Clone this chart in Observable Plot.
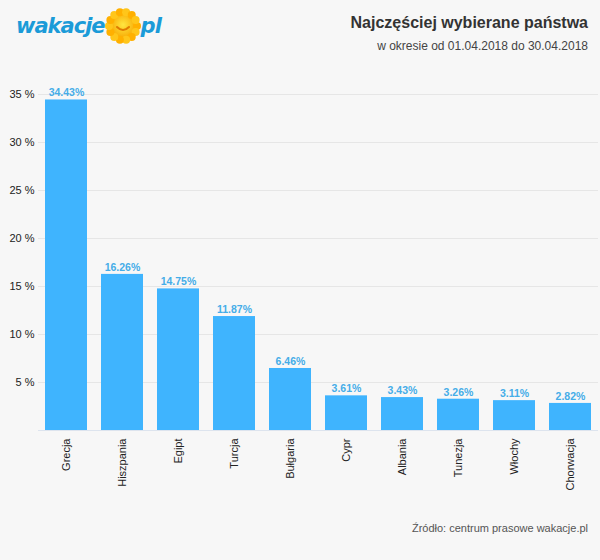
<!DOCTYPE html>
<html>
<head>
<meta charset="utf-8">
<script src="https://cdn.jsdelivr.net/npm/d3@7"></script>
<script src="https://cdn.jsdelivr.net/npm/@observablehq/plot@0.6"></script>
<style>
  html, body { margin: 0; padding: 0; background: #f7f7f7; }
  body { width: 600px; height: 560px; position: relative; overflow: hidden; font-family: "Liberation Sans", Arial, sans-serif; }
  #logo { position: absolute; left: 16px; top: 6px; height: 40px; display: flex; align-items: center; }
  .lt { font-family: "DejaVu Sans", "Liberation Sans", sans-serif; font-weight: bold; font-style: italic; color: #1b9bd8; font-size: 21px; letter-spacing: -1px; }
  #title { position: absolute; right: 12px; top: 14px; font-size: 16px; font-weight: bold; color: #333; }
  #subtitle { position: absolute; right: 12px; top: 39px; font-size: 12px; color: #444; }
  #chart { position: absolute; left: 0; top: 70px; }
  #caption { position: absolute; right: 12px; top: 522px; font-size: 11px; color: #555; }
</style>
</head>
<body>
<div id="logo">
  <span class="lt">wakacje</span>
  <svg width="40" height="40" viewBox="-20 -20 40 40" style="margin:0 -2px">
    <defs>
      <radialGradient id="sg" cx="0.5" cy="0.45" r="0.6">
        <stop offset="0" stop-color="#ffe640"/>
        <stop offset="1" stop-color="#f7a600"/>
      </radialGradient>
    </defs>
    <g fill="url(#sg)">
      <circle r="12"/>
    </g>
    <g id="petals"></g>
    <path d="M-6 1 Q0 7 6 1" stroke="#e07b00" stroke-width="2" fill="none" stroke-linecap="round"/>
  </svg>
  <span class="lt">pl</span>
</div>
<div id="title">Najczęściej wybierane państwa</div>
<div id="subtitle">w okresie od 01.04.2018 do 30.04.2018</div>
<div id="chart"></div>
<div id="caption">Źródło: centrum prasowe wakacje.pl</div>
<script>
const countries = ["Grecja", "Hiszpania", "Egipt", "Turcja", "Bułgaria", "Cypr", "Albania", "Tunezja", "Włochy", "Chorwacja"];
const shares = [34.43, 16.26, 14.75, 11.87, 6.46, 3.61, 3.43, 3.26, 3.11, 2.82];
const yTicks = [5, 10, 15, 20, 25, 30, 35];

// decorative sun petals
const petals = document.getElementById("petals");
for (let i = 0; i < 14; i++) {
  const a = (i / 14) * 2 * Math.PI;
  const c = document.createElementNS("http://www.w3.org/2000/svg", "circle");
  c.setAttribute("cx", (14 * Math.cos(a)).toFixed(2));
  c.setAttribute("cy", (14 * Math.sin(a)).toFixed(2));
  c.setAttribute("r", 4);
  c.setAttribute("fill", i % 2 ? "#ffc61a" : "#ffb000");
  petals.appendChild(c);
}

const data = countries.map((c, i) => ({country: c, share: shares[i]}));

const chart = Plot.plot({
  width: 600,
  height: 440,
  marginTop: 24,
  marginBottom: 80,
  marginLeft: 38,
  marginRight: 2,
  style: {background: "transparent", fontFamily: "'Liberation Sans', Arial, sans-serif", fontSize: "11px", color: "#333"},
  x: {domain: countries, paddingInner: 0.25, paddingOuter: 0.125, label: null},
  y: {domain: [0, 35], label: null},
  marks: [
    Plot.ruleY(yTicks, {stroke: "#e6e6e6", strokeWidth: 1}),
    Plot.ruleY([0], {stroke: "#dde4ee"}),
    Plot.ruleX([0], {frameAnchor: "left", stroke: "#dde4ee"}),
    Plot.barY(data, {x: "country", y: "share", fill: "#3fb4fe"}),
    Plot.text(data, {x: "country", y: "share", text: d => d.share.toFixed(2) + "%", dy: -7, fill: "#45ade8", fontWeight: "bold", fontSize: 10.5}),
    Plot.axisY(yTicks, {tickSize: 0, tickPadding: 4, tickFormat: d => d + " %", fill: "#222", fontSize: 11}),
    Plot.axisX({tickSize: 0, tickRotate: -90, tickPadding: 8, fill: "#222", fontSize: 11})
  ]
});
document.getElementById("chart").appendChild(chart);
</script>
</body>
</html>
